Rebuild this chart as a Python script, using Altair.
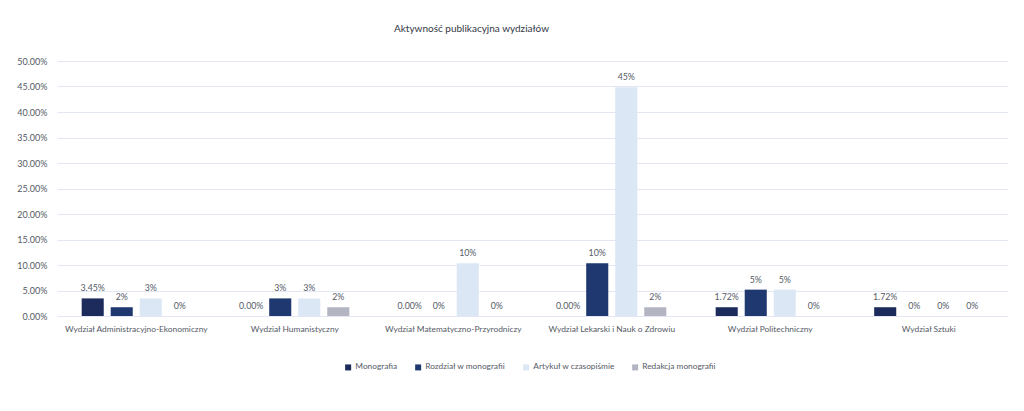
import altair as alt
import pandas as pd

categories = [
    "Wydział Administracyjno-Ekonomiczny",
    "Wydział Humanistyczny",
    "Wydział Matematyczno-Przyrodniczy",
    "Wydział Lekarski i Nauk o Zdrowiu",
    "Wydział Politechniczny",
    "Wydział Sztuki",
]
series = ["Monografia", "Rozdział w monografii", "Artykuł w czasopiśmie", "Redakcja monografii"]
monografia = [0.0345, 0.0, 0.0, 0.0, 0.0172, 0.0172]
rozdzial = [0.0172, 0.0345, 0.0, 0.1034, 0.0517, 0.0]
artykul = [0.0345, 0.0345, 0.1034, 0.4483, 0.0517, 0.0]
redakcja = [0.0, 0.0172, 0.0, 0.0172, 0.0, 0.0]
colors = ["#1c2a5c", "#1f3870", "#dce7f5", "#b3b5c3"]
y_ticks = [0, 0.05, 0.10, 0.15, 0.20, 0.25, 0.30, 0.35, 0.40, 0.45, 0.50]

rows = []
for s, vals in zip(series, [monografia, rozdzial, artykul, redakcja]):
    for c, v in zip(categories, vals):
        rows.append({"category": c, "series": s, "value": v})
df = pd.DataFrame(rows)

FONT = "Lato"
TXT = "#555a66"

yenc = alt.Y("value:Q", title=None,
             scale=alt.Scale(domain=[0, 0.5]),
             axis=alt.Axis(values=y_ticks, format=".2%", ticks=False, domain=False,
                           labelPadding=10, labelFont=FONT, labelFontSize=9,
                           labelOverlap=False,
                           labelColor=TXT, gridColor="#e3e6f3", gridWidth=1))

base = alt.Chart(df).encode(
    x=alt.X("category:N", sort=categories, title=None,
            scale=alt.Scale(paddingInner=0, paddingOuter=0),
            axis=alt.Axis(labelAngle=0, ticks=False, domain=False, labelPadding=8,
                          labelFont=FONT, labelFontSize=8.4, labelColor=TXT,
                          labelLimit=300, labelOverlap=False)),
    xOffset=alt.XOffset("series:N", sort=series,
                        scale=alt.Scale(paddingInner=0.24, paddingOuter=0.85)),
    y=yenc,
)

bars = base.mark_bar().encode(
    color=alt.Color("series:N", sort=series,
                    scale=alt.Scale(domain=series, range=colors),
                    legend=alt.Legend(title=None, orient="none", direction="horizontal",
                                      legendX=287, legendY=302, symbolType="square",
                                      symbolSize=36, symbolStrokeWidth=0,
                                      labelFont=FONT, labelFontSize=8.3, labelColor=TXT,
                                      columnPadding=16, labelOffset=3)),
)

labels = base.transform_calculate(
    label="datum.series == 'Monografia' ? format(datum.value, '.2%') : format(datum.value, '.0%')"
).mark_text(baseline="bottom", dy=-5, font=FONT, fontSize=8.8, color=TXT).encode(
    text="label:N",
)

chart = alt.layer(bars, labels).properties(
    width=951,
    height=255,
    autosize=alt.AutoSizeParams(type="none"),
    padding={"left": 49, "top": 53, "right": 8, "bottom": 80},
    title=alt.TitleParams("Aktywność publikacyjna wydziałów", font=FONT, fontSize=10,
                          fontWeight="normal", color="#333845", anchor="middle",
                          dx=-61, offset=23),
).configure_view(stroke=None)

chart.save("out.html", embed_options={"renderer": "svg", "actions": False})
